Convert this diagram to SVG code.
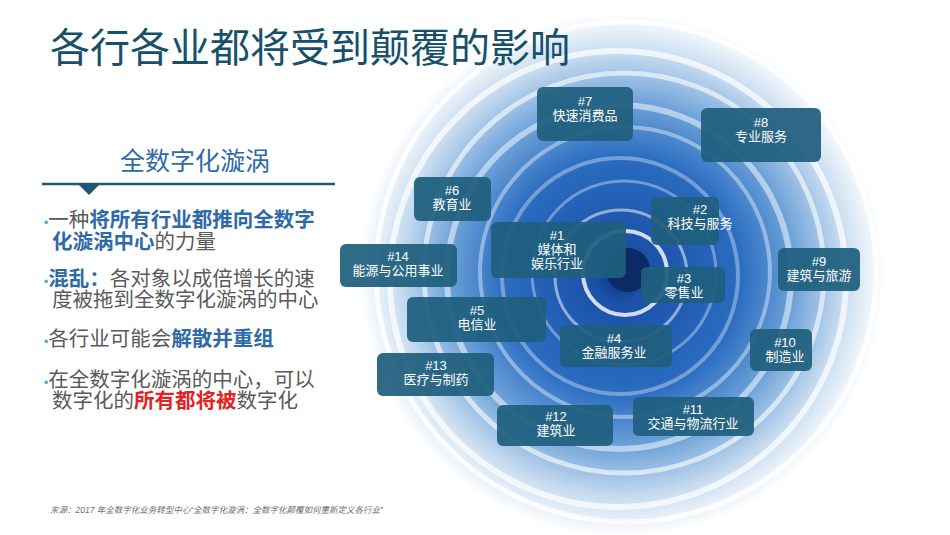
<svg xmlns="http://www.w3.org/2000/svg" width="950" height="535" viewBox="0 0 950 535">
<style>
.n rect{fill:#1f5f7e;fill-opacity:.93;}
.n text{font-family:"Liberation Sans","Noto Sans CJK SC",sans-serif;font-size:13px;fill:#fff;text-anchor:middle;}
.b{font-family:"Liberation Sans","Noto Sans CJK SC",sans-serif;font-size:20.5px;fill:#5a5a5a;}
.h{fill:#2e6aa6;font-weight:bold;}
.r{fill:#e52222;font-weight:bold;}
.d{fill:#3fa8d8;font-size:12px;}
</style>
<defs>
<radialGradient id="v" cx="0.5" cy="0.5" r="0.5">
<stop offset="0" stop-color="#0a2d70"/>
<stop offset="0.1" stop-color="#1a50a8"/>
<stop offset="0.45" stop-color="#2a6cc0"/>
<stop offset="0.65" stop-color="#6a9fd8"/>
<stop offset="0.85" stop-color="#c8dcf0"/>
<stop offset="1" stop-color="#ffffff"/>
</radialGradient>
</defs>
<rect width="950" height="535" fill="#fff"/>
<g id="vortex">
<circle cx="622" cy="275" r="262" fill="url(#v)"/>
<g fill="none" stroke="#fff">
<circle cx="626" cy="272" r="250" stroke-width="5" opacity=".8"/>
<circle cx="618" cy="279" r="228" stroke-width="6" opacity=".7"/>
<circle cx="624" cy="273" r="200" stroke-width="5" opacity=".6"/>
<circle cx="619" cy="277" r="172" stroke-width="6" opacity=".5"/>
<circle cx="625" cy="272" r="145" stroke-width="4" opacity=".4"/>
<circle cx="620" cy="276" r="118" stroke-width="4" opacity=".35"/>
<circle cx="624" cy="273" r="92" stroke-width="3" opacity=".35"/>
<circle cx="621" cy="276" r="66" stroke-width="3" opacity=".5"/>
<circle cx="625" cy="273" r="42" stroke-width="4" opacity=".8"/>
</g>
<circle cx="628" cy="270" r="22" fill="#0b2a66"/>
</g>
<text x="50" y="62" font-family="Liberation Sans,'Noto Sans CJK SC',sans-serif" font-size="40" fill="#17506b">各行各业都将受到颠覆的影响</text>
<text x="195" y="170" text-anchor="middle" font-family="Liberation Sans,'Noto Sans CJK SC',sans-serif" font-size="25" fill="#2e6aa6">全数字化漩涡</text>
<line x1="42" y1="184" x2="335" y2="184" stroke="#1f5874" stroke-width="2.5"/>
<polygon points="78,184 100,184 89,195" fill="#1f5874"/>
<text class="b" x="44" y="227"><tspan class="d">•</tspan>一种<tspan class="h">将所有行业都推向全数字</tspan></text>
<text class="b" x="52" y="249"><tspan class="h">化漩涡中心</tspan>的力量</text>
<text class="b" x="44" y="286"><tspan class="d">•</tspan><tspan class="h">混乱：</tspan>各对象以成倍增长的速</text>
<text class="b" x="52" y="307">度被拖到全数字化漩涡的中心</text>
<text class="b" x="44" y="346"><tspan class="d">•</tspan>各行业可能会<tspan class="h">解散并重组</tspan></text>
<text class="b" x="44" y="387"><tspan class="d">•</tspan>在全数字化漩涡的中心，可以</text>
<text class="b" x="52" y="408">数字化的<tspan class="r">所有都将被</tspan>数字化</text>
<g id="connectors"/>
<g id="n7" class="n"><rect x="537" y="87" width="96" height="54" rx="6"/><text x="585" y="106">#7</text><text x="585" y="120">快速消费品</text></g>
<g id="n8" class="n"><rect x="701" y="108" width="120" height="54" rx="6"/><text x="761" y="127">#8</text><text x="761" y="141">专业服务</text></g>
<g id="n6" class="n"><rect x="414" y="177" width="77" height="44" rx="6"/><text x="452" y="195">#6</text><text x="452" y="209">教育业</text></g>
<g id="n2" class="n"><rect x="651" y="197" width="68" height="48" rx="6"/><text x="700" y="214">#2</text><text x="700" y="228">科技与服务</text></g>
<g id="n1" class="n"><rect x="491" y="222" width="135" height="56" rx="6"/><text x="557" y="240">#1</text><text x="557" y="254">媒体和</text><text x="557" y="268">娱乐行业</text></g>
<g id="n14" class="n"><rect x="340" y="244" width="117" height="43" rx="6"/><text x="398" y="261">#14</text><text x="398" y="275">能源与公用事业</text></g>
<g id="n9" class="n"><rect x="778" y="248" width="82" height="43" rx="6"/><text x="819" y="266">#9</text><text x="819" y="280">建筑与旅游</text></g>
<g id="n3" class="n"><rect x="641" y="267" width="84" height="36" rx="6"/><text x="684" y="283">#3</text><text x="684" y="297">零售业</text></g>
<g id="n5" class="n"><rect x="407" y="297" width="139" height="45" rx="6"/><text x="477" y="315">#5</text><text x="477" y="329">电信业</text></g>
<g id="n4" class="n"><rect x="560" y="325" width="112" height="42" rx="6"/><text x="614" y="343">#4</text><text x="614" y="357">金融服务业</text></g>
<g id="n10" class="n"><rect x="750" y="329" width="62" height="42" rx="6"/><text x="785" y="347">#10</text><text x="785" y="361">制造业</text></g>
<g id="n13" class="n"><rect x="377" y="353" width="117" height="43" rx="6"/><text x="436" y="370">#13</text><text x="436" y="384">医疗与制药</text></g>
<g id="n12" class="n"><rect x="497" y="405" width="116" height="41" rx="6"/><text x="556" y="421">#12</text><text x="556" y="435">建筑业</text></g>
<g id="n11" class="n"><rect x="633" y="397" width="121" height="39" rx="6"/><text x="693" y="414">#11</text><text x="693" y="428">交通与物流行业</text></g>
<text x="50" y="513" font-family="Liberation Sans,'Noto Sans CJK SC',sans-serif" font-size="8.5" font-style="italic" fill="#707070">来源：2017 年全数字化业务转型中心“全数字化漩涡：全数字化颠覆如何重新定义各行业”</text>
</svg>
